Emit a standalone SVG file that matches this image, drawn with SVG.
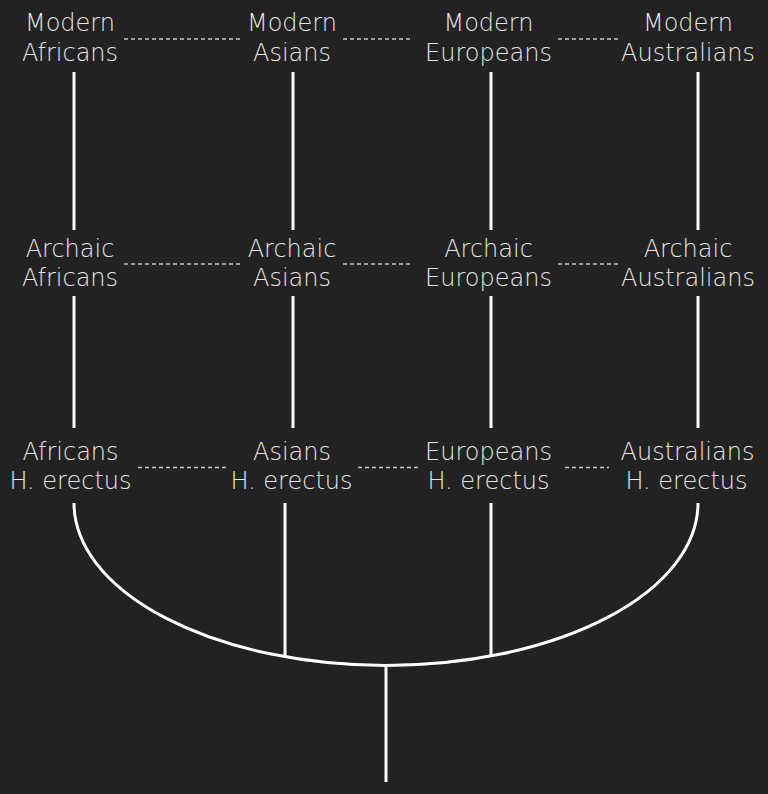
<svg xmlns="http://www.w3.org/2000/svg" width="768" height="794" viewBox="0 0 768 794">
<style>
text{font-family:"DejaVu Sans","Liberation Sans",sans-serif;font-weight:200;font-size:24px;fill:#e6e6e6;text-anchor:middle}
.ln{stroke:#ffffff;stroke-width:3;fill:none}
.dt{stroke:#c8c8c8;stroke-width:1.5;stroke-dasharray:4 3;fill:none}
</style>
<rect width="768" height="794" fill="#222222"/>
<g id="connectors">
<path class="ln" d="M74,72V230M293,72V230M491,72V230M698,72V230"/>
<path class="ln" d="M74,296V428M293,296V428M491,296V428M698,296V428"/>
<path class="ln" d="M74,503A312,162.5 0 0 0 698,503"/>
<path class="ln" d="M285,503V657.5M491,503V656.5M386,665.5V782"/>
<path class="dt" d="M124,39H243M343,39H412M558,39H618"/>
<path class="dt" d="M124,264H243M343,264H412M558,264H618"/>
<path class="dt" d="M138,467.5H229M358,467.5H420M565,467.5H609"/>
</g>
<g id="modern-africans"><text x="70" y="31">Modern</text><text x="70" y="61">Africans</text></g>
<g id="modern-asians"><text x="292" y="31">Modern</text><text x="292" y="61">Asians</text></g>
<g id="modern-europeans"><text x="488.5" y="31">Modern</text><text x="488.5" y="61">Europeans</text></g>
<g id="modern-australians"><text x="688" y="31">Modern</text><text x="688" y="61">Australians</text></g>
<g id="archaic-africans"><text x="70" y="257">Archaic</text><text x="70" y="286">Africans</text></g>
<g id="archaic-asians"><text x="292" y="257">Archaic</text><text x="292" y="286">Asians</text></g>
<g id="archaic-europeans"><text x="488.5" y="257">Archaic</text><text x="488.5" y="286">Europeans</text></g>
<g id="archaic-australians"><text x="688" y="257">Archaic</text><text x="688" y="286">Australians</text></g>
<g id="africans-erectus"><text x="70.5" y="459.5">Africans</text><text x="70.5" y="488.5">H. erectus</text></g>
<g id="asians-erectus"><text x="292" y="459.5">Asians</text><text x="291.5" y="488.5">H. erectus</text></g>
<g id="europeans-erectus"><text x="488.5" y="459.5">Europeans</text><text x="488.5" y="488.5">H. erectus</text></g>
<g id="australians-erectus"><text x="687.5" y="459.5">Australians</text><text x="686.5" y="488.5">H. erectus</text></g>
</svg>
